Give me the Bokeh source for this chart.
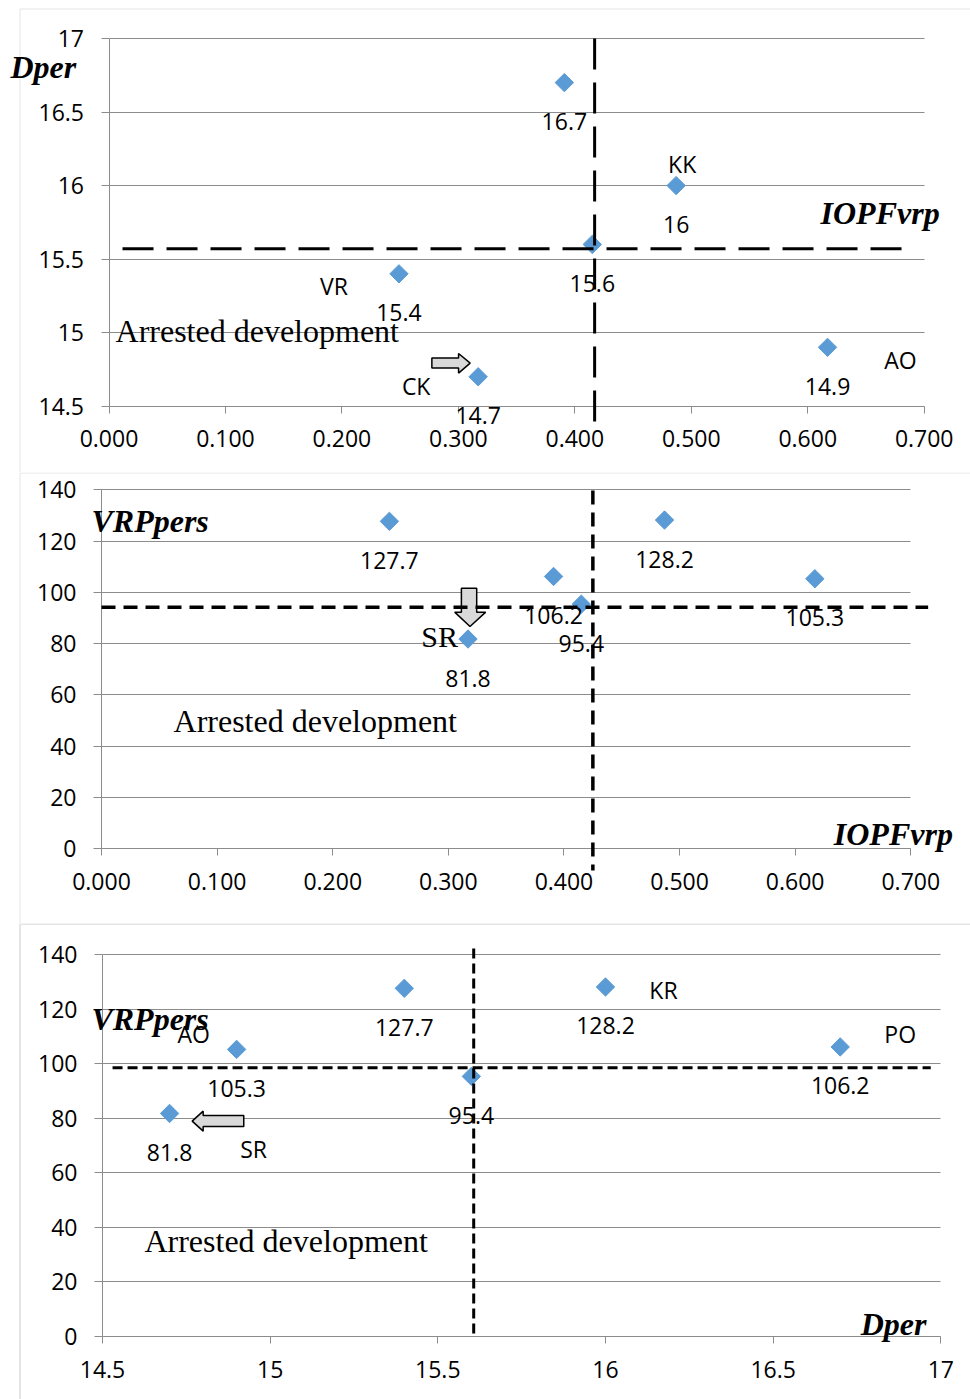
import numpy as np
from bokeh.plotting import figure
from bokeh.layouts import column
from bokeh.models import (Range1d, FixedTicker, ColumnDataSource, LabelSet, Label,
                          Arrow, BoxAnnotation, NumeralTickFormatter)
from bokeh.core.properties import value
from bokeh.embed import file_html
from bokeh.resources import INLINE

# ---------------- data ----------------
names_panel1 = ["VR", "", "KK", "", "AO", "CK"]
names_panel3 = ["", "PO", "KR", "", "AO", "SR"]
iopf_vrp = [0.249, 0.391, 0.487, 0.415, 0.617, 0.317]
d_per = [15.4, 16.7, 16.0, 15.6, 14.9, 14.7]
vrp_pers = [127.7, 106.2, 128.2, 95.4, 105.3, 81.8]

ticks_iopf = [0.0, 0.1, 0.2, 0.3, 0.4, 0.5, 0.6, 0.7]
ticks_dper = [14.5, 15.0, 15.5, 16.0, 16.5, 17.0]
ticks_vrp = [0, 20, 40, 60, 80, 100, 120, 140]

# threshold (dashed) lines
p1_h_level, p1_h_from, p1_h_to = 15.57, 0.0116, 0.681
p1_v_level, p1_v_from, p1_v_to = 0.417, 17.0, 14.39
p2_h_level, p2_h_from, p2_h_to = 94.2, 0.0, 0.715
p2_v_level, p2_v_from, p2_v_to = 0.425, 139.7, -8.5
p3_h_level, p3_h_from, p3_h_to = 98.6, 14.53, 16.97
p3_v_level, p3_v_from, p3_v_to = 15.607, 142.3, -0.3

# ---------------- styles ----------------
GRID = "#8c8c8c"
BORDER = "#a8a8a8"
BLUE = "#5B9BD5"
SANS = "Open Sans"
SERIF = "Liberation Serif"
FS = "23px"
BIG = "32px"
W = 970
RAISE = 10  # px lift of the serif texts


def make_fig(cw, ch, xlim, ylim, px_x, px_y, xticks, yticks, xfmt=None):
    """Plot area spans the whole canvas; the axes are pinned to the data limits."""
    x0, x1 = xlim
    y0, y1 = ylim
    pl, pr = px_x          # canvas pixel of x0, x1
    pb, pt = px_y          # canvas pixel of y0 (bottom), y1 (top)
    sx = (x1 - x0) / (pr - pl)
    sy = (y1 - y0) / (pb - pt)
    xr = Range1d(x0 - pl * sx, x1 + (cw - pr) * sx)
    yr = Range1d(y0 - (ch - pb) * sy, y1 + pt * sy)
    p = figure(x_range=xr, y_range=yr, frame_width=cw, frame_height=ch,
               min_border=0, min_border_left=0, min_border_right=0,
               min_border_top=0, min_border_bottom=0,
               output_backend="svg", toolbar_location=None, tools="")
    p.outline_line_color = None
    p.background_fill_color = "white"
    p.border_fill_color = "white"
    p.xgrid.visible = False
    yg = p.ygrid[0]
    yg.ticker = FixedTicker(ticks=yticks)
    yg.grid_line_color = GRID
    yg.grid_line_width = 1
    try:
        yg.cross_bounds = (x0, x1)
        yg.bounds = (y0, y1)
    except Exception:
        yg.visible = False
        p.segment(x0=[x0] * len(yticks), x1=[x1] * len(yticks), y0=yticks, y1=yticks,
                  line_color=GRID, line_width=1)
    xa, ya = p.xaxis[0], p.yaxis[0]
    xa.ticker = FixedTicker(ticks=xticks)
    ya.ticker = FixedTicker(ticks=yticks)
    xa.fixed_location = y0
    ya.fixed_location = x0
    xa.bounds = (x0, x1)
    ya.bounds = (y0, y1)
    if xfmt is not None:
        xa.formatter = xfmt
    else:
        xa.major_label_overrides = {t: f"{t:g}" for t in xticks}
    ya.major_label_overrides = {t: f"{t:g}" for t in yticks}
    for ax in (xa, ya):
        ax.axis_line_color = GRID
        ax.major_tick_line_color = GRID
        ax.minor_tick_line_color = None
        ax.major_tick_in = 0
        ax.major_label_text_font = SANS
        ax.major_label_text_font_size = FS
        ax.major_label_text_color = "black"
    xa.major_tick_out = 7
    ya.major_tick_out = 8
    xa.major_label_standoff = 17
    ya.major_label_standoff = 17
    return p, (sx, sy)


def add_points(p, xs, ys):
    p.scatter(xs, ys, marker="square", angle=np.pi / 4, size=13,
              fill_color=BLUE, line_color=BLUE)


def add_values(p, xs, ys, vals):
    src = ColumnDataSource(dict(x=xs, y=ys, t=[f"{v:g}" for v in vals]))
    p.add_layout(LabelSet(x="x", y="y", text="t", source=src, y_offset=-39,
                          text_align="center", text_baseline="middle",
                          text_font=value(SANS), text_font_size=FS,
                          text_color="black"))


def add_names(p, xs, ys, names, offsets):
    for x, y, n in zip(xs, ys, names):
        if n and n in offsets:
            dx, dy = offsets[n]
            p.add_layout(Label(x=x, y=y, text=n, x_offset=dx, y_offset=-dy,
                               text_align="center", text_baseline="middle",
                               text_font=SANS, text_font_size=FS,
                               text_color="black"))


def dashed(p, x0, y0, x1, y1, width, dash):
    p.add_layout(Arrow(end=None, x_start=x0, y_start=y0, x_end=x1, y_end=y1,
                       line_color="black", line_width=width, line_dash=dash))


def big_text(p, x, y, text, style="bold italic", size=BIG):
    p.add_layout(Label(x=x, y=y, text=text, text_font=SERIF, text_font_size=size,
                       text_font_style=style, text_align="left", y_offset=RAISE,
                       text_baseline="alphabetic", text_color="black"))


def block_arrow(p, scale, ax, ay, pts):
    sx, sy = scale
    xs = [ax + dx * sx for dx, dy in pts]
    ys = [ay - dy * sy for dx, dy in pts]
    p.patch(xs, ys, fill_color="#d9d9d9", line_color="black", line_width=1.5)


def frame_box(p, w, h, top=0.5, lw=1):
    p.add_layout(BoxAnnotation(left=19.5, right=w + 20, top=top, bottom=h + 20,
                               left_units="canvas", right_units="canvas",
                               top_units="canvas", bottom_units="canvas",
                               fill_alpha=0, fill_color=None,
                               line_color=BORDER, line_width=lw))


# ---------------- panel 1: IOPFvrp vs Dper ----------------
H1 = 472
p1, s1 = make_fig(W, H1, (0, 0.7), (14.5, 17), (108.5, 923.7), (405.7, 38),
                  ticks_iopf, ticks_dper, NumeralTickFormatter(format="0.000"))
frame_box(p1, W, H1, top=8.5)
add_points(p1, iopf_vrp, d_per)
add_values(p1, iopf_vrp, d_per, d_per)
add_names(p1, iopf_vrp, d_per, names_panel1,
          {"VR": (-65, 12), "KK": (6, -22), "AO": (73, 13), "CK": (-62, 9)})
block_arrow(p1, s1, iopf_vrp[5], d_per[5],
            [(-46.3, -18.7), (-19.6, -18.7), (-19.6, -23.3), (-8, -13.7),
             (-19.6, -3.7), (-19.6, -8.7), (-46.3, -8.7)])
dashed(p1, p1_h_from, p1_h_level, p1_h_to, p1_h_level, 3, "31 13")
dashed(p1, p1_v_level, p1_v_from, p1_v_level, p1_v_to, 3, "31 13")
big_text(p1, -0.0846, 16.737, "Dper")
big_text(p1, 0.611, 15.744, "IOPFvrp")
big_text(p1, 0.0056, 14.946, "Arrested development", style="normal")

# ---------------- panel 2: IOPFvrp vs VRPpers ----------------
H2 = 451
p2, s2 = make_fig(W, H2, (0, 0.7), (0, 140), (101, 910.3), (376.3, 17.3),
                  ticks_iopf, ticks_vrp, NumeralTickFormatter(format="0.000"))
frame_box(p2, W, H2)
add_points(p2, iopf_vrp, vrp_pers)
add_values(p2, iopf_vrp, vrp_pers, vrp_pers)
p2.add_layout(Label(x=iopf_vrp[5], y=vrp_pers[5], text="SR", x_offset=-10, y_offset=3,
                    text_align="right", text_baseline="alphabetic",
                    text_font=SERIF, text_font_size="30px", text_color="black"))
block_arrow(p2, s2, iopf_vrp[5], vrp_pers[5],
            [(-6.6, -50.9), (8.7, -50.9), (8.7, -26.9), (17.7, -26.9), (2, -12.6),
             (-13.3, -26.9), (-6.6, -26.9)])
dashed(p2, p2_h_from, p2_h_level, p2_h_to, p2_h_level, 3.5, "14 8")
dashed(p2, p2_v_level, p2_v_from, p2_v_level, p2_v_to, 3.5, "14 8")
big_text(p2, -0.0087, 123.85, "VRPpers")
big_text(p2, 0.6334, 1.95, "IOPFvrp")
big_text(p2, 0.0623, 45.86, "Arrested development", style="normal")

# ---------------- panel 3: Dper vs VRPpers ----------------
H3 = 476
p3, s3 = make_fig(W, H3, (14.5, 17), (0, 140), (102, 940.3), (413, 31.3),
                  ticks_dper, ticks_vrp)
frame_box(p3, W, H3, lw=2)
add_points(p3, d_per, vrp_pers)
add_values(p3, d_per, vrp_pers, vrp_pers)
add_names(p3, d_per, vrp_pers, names_panel3,
          {"AO": (-43, -15.6), "SR": (84, 36), "KR": (58, 3.5), "PO": (60, -13)})
block_arrow(p3, s3, d_per[5], vrp_pers[5],
            [(22.6, 7.7), (33.6, -2.3), (33.6, 2), (74.2, 2), (74.2, 13),
             (33.6, 13), (33.6, 17.7)])
dashed(p3, p3_h_from, p3_h_level, p3_h_to, p3_h_level, 3, "10 5")
dashed(p3, p3_v_level, p3_v_from, p3_v_level, p3_v_to, 3, "10 5")
big_text(p3, 14.467, 112.86, "VRPpers")
big_text(p3, 16.761, 0.99, "Dper")
big_text(p3, 14.625, 31.54, "Arrested development", style="normal")

layout = column(p1, p2, p3, spacing=0)
open("out.html", "w").write(file_html(layout, INLINE))
